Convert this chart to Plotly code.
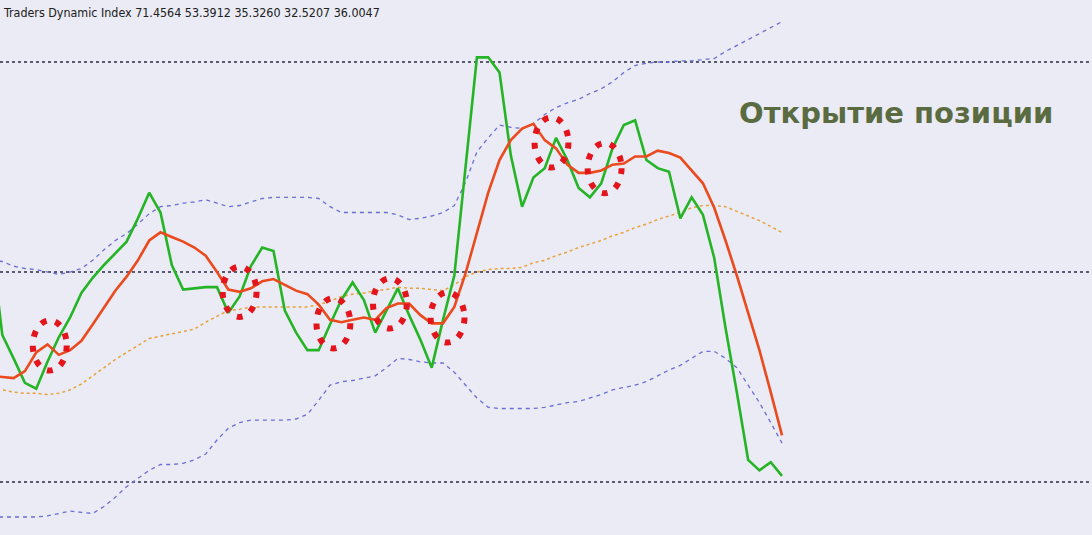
import plotly.graph_objects as go

bars = list(range(-1, 70))

rsi = [52.7, 44.6, 42.6, 40.5, 40.0, 42.3, 44.4, 46.1, 48.2, 49.5, 50.6, 51.6, 52.6, 54.6, 56.8,
       55.1, 50.6, 48.5, 48.6, 48.7, 48.7, 46.5, 47.9, 50.5, 52.1, 51.8, 46.7, 44.8, 43.3, 43.3,
       45.5, 47.6, 49.1, 47.6, 44.8, 46.7, 48.6, 46.3, 44.2, 41.8, 45.9, 49.7, 59.2, 68.4, 68.4,
       67.1, 60.0, 55.6, 58.1, 58.9, 61.5, 59.6, 57.2, 56.4, 57.6, 60.6, 62.6, 63.0, 59.6, 58.9,
       58.6, 54.6, 56.4, 54.9, 51.2, 45.2, 39.7, 33.9, 33.0, 33.7, 32.52]

signal = [41.1, 41.0, 40.9, 41.5, 43.1, 43.8, 42.9, 43.3, 44.1, 45.5, 47.0, 48.4, 49.6, 51.0, 52.7,
          53.4, 53.0, 52.6, 52.1, 51.4, 50.0, 48.5, 48.3, 48.6, 49.2, 49.4, 48.9, 48.4, 48.1, 47.2,
          45.9, 45.7, 45.9, 46.1, 45.9, 46.9, 47.3, 47.3, 46.3, 45.6, 45.6, 47.0, 49.9, 53.3, 56.8,
          59.6, 61.3, 62.3, 62.7, 61.3, 60.6, 59.2, 58.5, 58.5, 58.7, 59.2, 59.3, 59.9, 59.9, 60.4,
          60.2, 59.8, 58.7, 57.6, 55.5, 52.7, 49.7, 46.5, 43.3, 39.7, 36.00]

middle = [40.0, 39.9, 39.7, 39.6, 39.6, 39.5, 39.6, 39.9, 40.4, 41.1, 41.8, 42.5, 43.1, 43.7, 44.3,
          44.5, 44.7, 44.9, 45.1, 45.7, 46.2, 46.7, 46.8, 47.0, 47.0, 47.0, 47.0, 47.0, 47.0, 47.2,
          47.5, 47.9, 48.1, 48.2, 48.4, 48.5, 48.7, 48.6, 48.6, 48.5, 48.4, 48.9, 49.6, 50.0, 50.2,
          50.3, 50.3, 50.4, 50.8, 51.0, 51.4, 51.7, 52.1, 52.4, 52.7, 53.1, 53.4, 53.8, 54.1, 54.5,
          54.8, 55.1, 55.5, 55.7, 55.7, 55.6, 55.2, 54.8, 54.4, 53.9, 53.39]

upper = [51.0, 50.9, 50.5, 50.3, 50.2, 50.0, 49.8, 50.0, 50.3, 51.0, 51.9, 52.7, 53.3, 54.1, 55.0,
         55.6, 55.7, 55.9, 56.0, 56.2, 55.9, 55.6, 55.7, 56.0, 56.3, 56.4, 56.4, 56.4, 56.4, 56.3,
         55.6, 55.1, 55.1, 55.1, 55.1, 55.1, 54.9, 54.5, 54.6, 54.8, 55.1, 55.7, 57.7, 60.3, 61.5,
         62.6, 62.4, 62.3, 62.7, 63.5, 64.1, 64.5, 64.8, 65.3, 65.7, 66.3, 67.1, 67.7, 67.9, 68.0,
         68.0, 68.1, 68.1, 68.2, 68.3, 68.9, 69.4, 69.9, 70.4, 70.9, 71.46]

lower = [29.0, 29.0, 29.0, 29.0, 29.0, 29.1, 29.3, 29.5, 29.4, 29.3, 29.9, 30.7, 31.6, 32.3, 33.0,
         33.5, 33.5, 33.6, 33.9, 34.4, 35.6, 36.6, 37.1, 37.3, 37.3, 37.3, 37.3, 37.4, 37.8, 39.0,
         40.3, 40.6, 40.7, 40.9, 41.1, 41.8, 42.6, 42.5, 42.3, 42.2, 42.2, 41.4, 40.3, 39.2, 38.4,
         38.3, 38.3, 38.3, 38.3, 38.4, 38.6, 38.8, 38.9, 39.2, 39.5, 39.9, 40.1, 40.3, 40.6, 41.1,
         41.6, 42.0, 42.6, 43.2, 43.2, 42.6, 41.8, 40.3, 38.8, 37.1, 35.33]

levels = [68, 50, 32]

# signal-crossing markers (bar index, value)
cross_bars = [4.2, 21.0, 29.3, 34.3, 39.4, 48.6, 53.3]
cross_vals = [43.7, 48.3, 45.6, 47.3, 46.1, 61.1, 58.9]

title_text = "Traders Dynamic Index 71.4564 53.3912 35.3260 32.5207 36.0047"
note_text = "Открытие позиции"

BG = "#eaebf4"
fig = go.Figure()

fig.add_trace(go.Scatter(x=bars, y=upper, mode="lines",
                         line=dict(color="#6e6ed2", width=1.3, dash="4px,4px")))
fig.add_trace(go.Scatter(x=bars, y=lower, mode="lines",
                         line=dict(color="#6e6ed2", width=1.3, dash="4px,4px")))
fig.add_trace(go.Scatter(x=bars, y=middle, mode="lines",
                         line=dict(color="#e9a23b", width=1.5, dash="3px,3px")))
fig.add_trace(go.Scatter(x=bars, y=rsi, mode="lines",
                         line=dict(color="#25b425", width=2.6)))
fig.add_trace(go.Scatter(x=bars, y=signal, mode="lines",
                         line=dict(color="#ea4a1e", width=2.6)))

for lv in levels:
    fig.add_shape(type="line", xref="paper", x0=0, x1=1, y0=lv, y1=lv, yref="y",
                  line=dict(color="#5a5a70", width=2, dash="3px,3px"), layer="below")

rx, ry = 1.5, 2.15
for cb, cv in zip(cross_bars, cross_vals):
    fig.add_shape(type="circle", x0=cb - rx, x1=cb + rx, y0=cv - ry, y1=cv + ry,
                  line=dict(color="#e3141c", width=6, dash="6px,9px"))

fig.add_annotation(text=title_text, xref="paper", yref="paper", x=0.0, y=1.0,
                   xanchor="left", yanchor="top", showarrow=False, xshift=1, yshift=-3,
                   font=dict(family="DejaVu Sans Condensed, Liberation Sans Narrow, Liberation Sans",
                             size=12.4, color="#202020"))
fig.add_annotation(text="<b>" + note_text + "</b>", xref="paper", yref="paper",
                   x=(737 / 1092), y=1 - 113 / 535, xanchor="left", yanchor="middle",
                   showarrow=False,
                   font=dict(family="DejaVu Sans", size=29, color="#5a6b42"))

fig.update_layout(width=1092, height=535, margin=dict(l=0, r=0, t=0, b=0),
                  paper_bgcolor=BG, plot_bgcolor=BG, showlegend=False, hovermode=False)
fig.update_xaxes(range=[-0.2035, 96.43], visible=False, showgrid=False, zeroline=False)
fig.update_yaxes(range=[27.457, 73.314], visible=False, showgrid=False, zeroline=False)

fig.write_html("out.html", config={"displayModeBar": False},
               post_script="document.body.style.margin='0';document.body.style.overflow='hidden';")
